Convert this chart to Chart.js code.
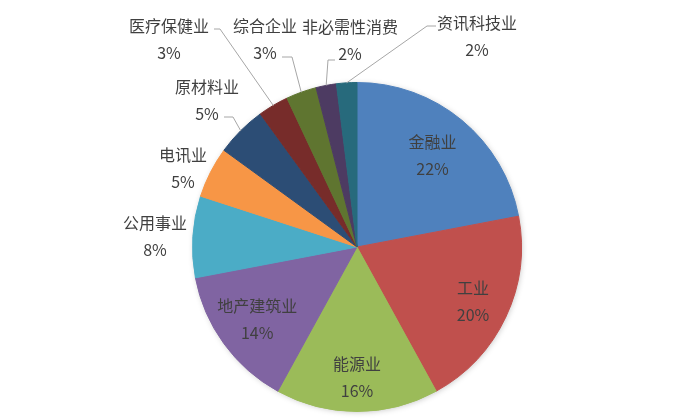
<!DOCTYPE html>
<html>
<head>
<meta charset="utf-8">
<script src="https://cdn.jsdelivr.net/npm/chart.js@4"></script>
<style>
  html, body { margin: 0; padding: 0; background: #fff; }
  #wrap { width: 683px; height: 418px; }
</style>
</head>
<body>
<div id="wrap"><canvas id="pieChart" width="683" height="418"></canvas></div>
<script>
// data (percent of total)
const sectors = ['金融业', '工业', '能源业', '地产建筑业', '公用事业', '电讯业', '原材料业', '医疗保健业', '综合企业', '非必需性消费', '资讯科技业'];
const shares = [22, 20, 16, 14, 8, 5, 5, 3, 3, 2, 2];
const sliceColors = ['#4F81BD', '#C0504D', '#9BBB59', '#8064A2', '#4BACC6', '#F79646', '#2C4D75', '#772C2A', '#5F7530', '#4D3B62', '#276A7C'];

// label placement: inside labels sit at r * radius on the mid angle,
// outside ones are offsets from the pie centre, with an optional leader line
const labelPlace = [
    { r: 0.72 },
    { r: 0.78 },
    { r: 0.79 },
    { r: 0.75 },
    { dx: -202, dy: -11 },
    { dx: -174, dy: -79 },
    { dx: -150, dy: -147, leader: [[-133, -130], [-124, -130]] },
    { dx: -188, dy: -208, leader: [[-143, -218], [-137, -218]] },
    { dx: -92, dy: -208, leader: [[-75, -190], [-65, -190]] },
    { dx: -7, dy: -207, leader: [[-22, -187], [-29, -187]] },
    { dx: 120, dy: -211, leader: [[79, -221], [70, -221]] }
];

const textColor = '#404040';
const labelFont = '16px "Noto Sans CJK SC", "Noto Sans", sans-serif';

// soft shadow under the whole pie
const pieShadow = {
    id: 'pieShadow',
    beforeDatasetsDraw(chart) {
        const arc = chart.getDatasetMeta(0).data[0];
        if (!arc) return;
        const ctx = chart.ctx;
        ctx.save();
        ctx.shadowColor = 'rgba(0,0,0,0.28)';
        ctx.shadowBlur = 6;
        ctx.shadowOffsetX = 1;
        ctx.shadowOffsetY = 1;
        ctx.fillStyle = '#fff';
        ctx.beginPath();
        ctx.arc(arc.x, arc.y, arc.outerRadius - 1, 0, Math.PI * 2);
        ctx.fill();
        ctx.restore();
    }
};

// category + percent labels, leader lines for the small slices
const pieLabels = {
    id: 'pieLabels',
    afterDatasetsDraw(chart) {
        const ctx = chart.ctx;
        const meta = chart.getDatasetMeta(0);
        const total = shares.reduce((a, b) => a + b, 0);
        ctx.save();
        ctx.font = labelFont;
        ctx.fillStyle = textColor;
        ctx.textAlign = 'center';
        ctx.textBaseline = 'middle';
        meta.data.forEach((arc, i) => {
            const p = labelPlace[i];
            const mid = (arc.startAngle + arc.endAngle) / 2;
            let x, y;
            if (p.r !== undefined) {
                x = arc.x + Math.cos(mid) * arc.outerRadius * p.r;
                y = arc.y + Math.sin(mid) * arc.outerRadius * p.r;
            } else {
                x = arc.x + p.dx;
                y = arc.y + p.dy;
            }
            const pct = Math.round(shares[i] / total * 100) + '%';
            ctx.fillText(sectors[i], x, y - 13.5);
            ctx.fillText(pct, x, y + 13.5);

            if (p.leader) {
                ctx.save();
                ctx.strokeStyle = '#A6A6A6';
                ctx.lineWidth = 1;
                ctx.beginPath();
                ctx.moveTo(arc.x + p.leader[0][0], arc.y + p.leader[0][1]);
                ctx.lineTo(arc.x + p.leader[1][0], arc.y + p.leader[1][1]);
                ctx.lineTo(arc.x + Math.cos(mid) * arc.outerRadius, arc.y + Math.sin(mid) * arc.outerRadius);
                ctx.stroke();
                ctx.restore();
            }
        });
        ctx.restore();
    }
};

new Chart(document.getElementById('pieChart'), {
    type: 'pie',
    data: {
        labels: sectors,
        datasets: [{
            data: shares,
            backgroundColor: sliceColors,
            borderColor: sliceColors,
            borderWidth: 1
        }]
    },
    options: {
        responsive: false,
        animation: false,
        layout: {
            padding: { left: 192, right: 161, top: 82, bottom: 6 }
        },
        plugins: {
            legend: { display: false },
            tooltip: { enabled: false }
        }
    },
    plugins: [pieShadow, pieLabels]
});
</script>
</body>
</html>
